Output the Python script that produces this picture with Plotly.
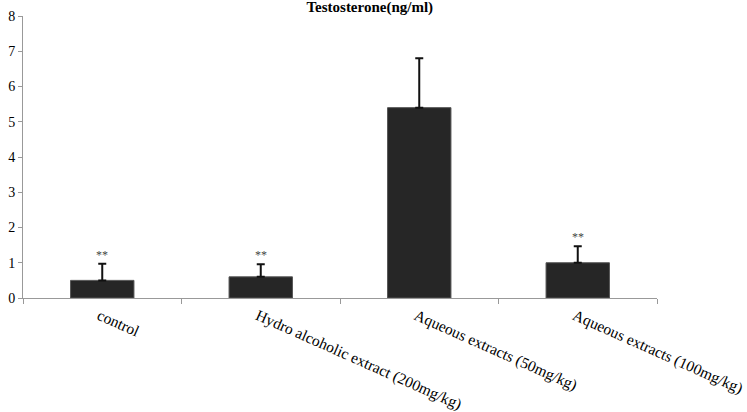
import plotly.graph_objects as go

groups = ["control", "Hydro alcoholic extract (200mg/kg)",
          "Aqueous extracts (50mg/kg)", "Aqueous extracts (100mg/kg)"]
means = [0.5, 0.6, 5.4, 1.0]
errors = [0.47, 0.36, 1.4, 0.47]
marks = ["**", "**", "", "**"]

FONT = "Liberation Serif, Times New Roman, serif"

fig = go.Figure()
fig.add_bar(
    x=groups, y=means, width=0.4,
    marker=dict(color="#262626", line=dict(color="#555555", width=1)),
    error_y=dict(type="data", array=errors, symmetric=False, arrayminus=[0] * 4,
                 color="#111111", thickness=2, width=4),
)
for g, m, e, s in zip(groups, means, errors, marks):
    if s:
        fig.add_annotation(x=g, y=m + e, text=s, showarrow=False, yanchor="bottom",
                           yshift=0, font=dict(family=FONT, size=12, color="#444444"))

fig.update_layout(
    width=747, height=412,
    margin=dict(l=23, r=90, t=16, b=114),
    paper_bgcolor="white", plot_bgcolor="white",
    showlegend=False,
    font=dict(family=FONT, size=14, color="black"),
    title=dict(text="<b>Testosterone(ng/ml)</b>", x=0.495, xanchor="center",
               y=0.997, yanchor="top", font=dict(family=FONT, size=15)),
)
fig.update_xaxes(
    showline=True, linecolor="#999999", linewidth=1,
    ticks="outside", tickson="boundaries", ticklen=5, tickcolor="#999999",
    tickangle=24, showgrid=False, automargin=False,
    tickfont=dict(size=15.5), ticklabelshift=-3, ticklabelstandoff=2,
)
fig.update_yaxes(
    range=[0, 8], dtick=1, showline=True, linecolor="#999999", linewidth=1,
    ticks="outside", ticklen=4, tickcolor="#999999", showgrid=False,
    zeroline=False, automargin=False, tickfont=dict(size=14),
)

# drop the browser's default 8px body margin so the figure fills the window
fig.write_html("out.html", config={"displayModeBar": False},
               post_script="document.body.style.margin='0';")
